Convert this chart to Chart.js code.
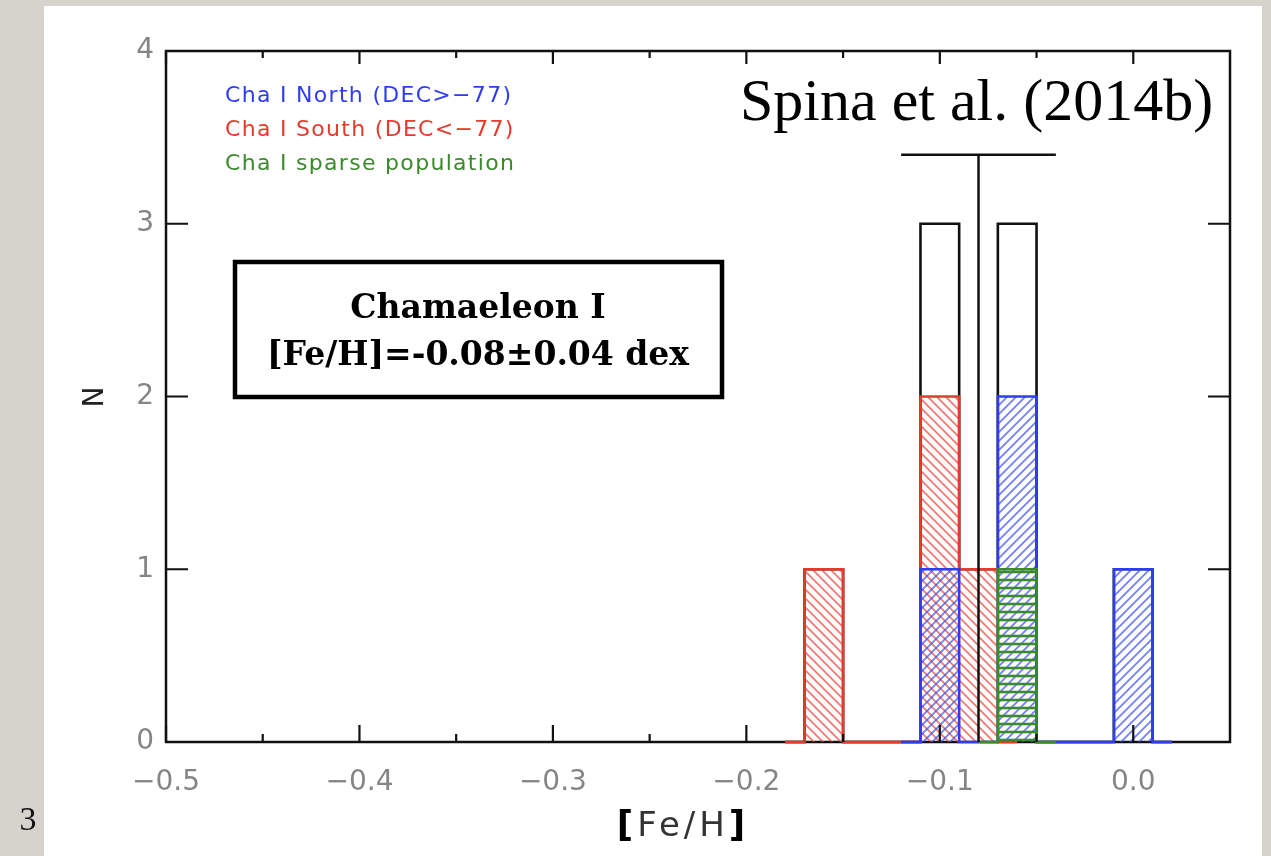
<!DOCTYPE html>
<html>
<head>
<meta charset="utf-8">
<title>Chamaeleon I [Fe/H]</title>
<script src="https://cdn.jsdelivr.net/npm/chart.js@4.4.1/dist/chart.umd.min.js"></script>
<style>
  html, body { margin: 0; padding: 0; background: #d6d3cd; }
  canvas { display: block; }
</style>
</head>
<body>
<canvas id="myChart" width="1271" height="856"></canvas>
<script>
// [Fe/H] bin centres (0.02 dex bins) and number of stars in each bin
const binsSouth  = [-0.18, -0.16, -0.14, -0.12, -0.10, -0.08, -0.06];
const countSouth = [0, 1, 0, 0, 2, 1, 0];
const binsNorth  = [-0.12, -0.10, -0.08, -0.06, -0.04, -0.02, 0.00, 0.02];
const countNorth = [0, 1, 0, 2, 0, 0, 1, 0];
const binsSparse  = [-0.08, -0.06, -0.04];
const countSparse = [0, 1, 0];
const binsAll  = [-0.18, -0.16, -0.14, -0.12, -0.10, -0.08, -0.06, -0.04, -0.02, 0.00, 0.02];
const countAll = [0, 1, 0, 0, 3, 1, 3, 0, 0, 1, 0];

// cluster mean and spread (the T marker)
const feMean = -0.08;
const feErr = 0.04;
const markTop = 3.4;

const xTicks = [-0.5, -0.4, -0.3, -0.2, -0.1, 0.0];
const xMinor = [-0.45, -0.35, -0.25, -0.15, -0.05];
const yTicks = [0, 1, 2, 3, 4];

const groupNames = ['Cha I North (DEC>\u221277)', 'Cha I South (DEC<\u221277)', 'Cha I sparse population'];

const BLUE = '#2f3df2';
const RED = '#e63a2c';
const GREEN = '#3b8a2c';

const canvas = document.getElementById('myChart');
const ctx = canvas.getContext('2d');

// hatch fills: 'fwd' = "/", 'back' = "\", 'horiz' = "-"
function hatch(kind, color, size, width) {
  const c = document.createElement('canvas');
  c.width = size; c.height = size;
  const g = c.getContext('2d');
  g.strokeStyle = color;
  g.lineWidth = width;
  g.beginPath();
  if (kind === 'horiz') {
    g.moveTo(0, size / 2); g.lineTo(size, size / 2);
  } else if (kind === 'fwd') {
    g.moveTo(0, size); g.lineTo(size, 0);
    g.moveTo(-size / 2, size / 2); g.lineTo(size / 2, -size / 2);
    g.moveTo(size / 2, size * 1.5); g.lineTo(size * 1.5, size / 2);
  } else {
    g.moveTo(0, 0); g.lineTo(size, size);
    g.moveTo(-size / 2, size / 2); g.lineTo(size / 2, size * 1.5);
    g.moveTo(size / 2, -size / 2); g.lineTo(size * 1.5, size / 2);
  }
  g.stroke();
  return ctx.createPattern(c, 'repeat');
}

function pts(xs, ys) {
  return xs.map((x, i) => ({ x: x, y: ys[i] }));
}

function histSet(xs, ys, color, fill, order) {
  return {
    data: pts(xs, ys),
    borderColor: color,
    borderWidth: 2.6,
    backgroundColor: fill || 'transparent',
    fill: fill ? 'origin' : false,
    stepped: 'middle',
    pointRadius: 0,
    clip: 6,
    order: order
  };
}

const fmt = v => {
  const s = Math.abs(v).toFixed(1);
  return v < -1e-9 ? '\u2212' + s : s;
};

const slideDecor = {
  id: 'slideDecor',
  beforeDraw(chart) {
    const c = chart.ctx;
    c.save();
    c.fillStyle = '#d6d3cd';
    c.fillRect(0, 0, chart.width, chart.height);
    c.fillStyle = '#ffffff';
    c.fillRect(44, 6, 1218, 850);
    c.restore();
  },
  beforeDatasetsDraw(chart) {
    const a = chart.chartArea;
    const c = chart.ctx;
    c.save();
    c.strokeStyle = '#111';
    c.lineWidth = 2.5;
    c.strokeRect(a.left, a.top, a.right - a.left, a.bottom - a.top);
    c.restore();
  },
  afterDatasetsDraw(chart) {
    const a = chart.chartArea;
    const c = chart.ctx;
    const xs = chart.scales.x, ys = chart.scales.y;
    c.save();
    c.strokeStyle = '#111';
    c.lineWidth = 2.2;
    c.beginPath();
    xTicks.forEach(v => {
      const px = xs.getPixelForValue(v);
      c.moveTo(px, a.bottom); c.lineTo(px, a.bottom - 17);
      c.moveTo(px, a.top); c.lineTo(px, a.top + 13);
    });
    xMinor.forEach(v => {
      const px = xs.getPixelForValue(v);
      c.moveTo(px, a.bottom); c.lineTo(px, a.bottom - 8);
      c.moveTo(px, a.top); c.lineTo(px, a.top + 7);
    });
    yTicks.forEach(v => {
      const py = ys.getPixelForValue(v);
      c.moveTo(a.left, py); c.lineTo(a.left + 22, py);
      c.moveTo(a.right, py); c.lineTo(a.right - 22, py);
    });
    c.stroke();

    // group names in the upper left
    c.font = '22px "DejaVu Sans"';
    c.letterSpacing = '1.3px';
    c.textBaseline = 'middle';
    c.textAlign = 'left';
    [BLUE, RED, GREEN].forEach((col, i) => {
      c.fillStyle = col;
      c.fillText(groupNames[i], 225, 96 + i * 34);
    });
    c.letterSpacing = '0px';

    // reference
    c.fillStyle = '#000';
    c.font = '60px "Liberation Serif"';
    c.textBaseline = 'alphabetic';
    c.fillText('Spina et al. (2014b)', 740, 120);

    // result box
    c.lineWidth = 4.5;
    c.strokeStyle = '#000';
    c.strokeRect(235, 262, 487, 135);
    c.textAlign = 'center';
    c.font = 'bold 33px "DejaVu Serif"';
    c.fillText('Chamaeleon I', 478, 318);
    c.fillText('[Fe/H]=-0.08\u00b10.04 dex', 478, 365);

    // axis titles
    c.save();
    c.translate(96, 397);
    c.rotate(-Math.PI / 2);
    c.font = '28px "DejaVu Sans"';
    c.fillStyle = '#222';
    c.textBaseline = 'middle';
    c.fillText('N', 0, 0);
    c.restore();

    c.textAlign = 'left';
    c.textBaseline = 'alphabetic';
    c.letterSpacing = '4px';
    const open = '[', mid = 'Fe/H', close = ']';
    c.font = 'bold 36px "DejaVu Sans"';
    const wo = c.measureText(open).width, wc = c.measureText(close).width;
    c.font = '34px "DejaVu Sans"';
    const wm = c.measureText(mid).width;
    let x0 = 683 - (wo + wm + wc) / 2;
    c.font = 'bold 36px "DejaVu Sans"';
    c.fillStyle = '#000';
    c.fillText(open, x0, 836);
    c.font = '34px "DejaVu Sans"';
    c.fillStyle = '#333';
    c.fillText(mid, x0 + wo, 836);
    c.font = 'bold 36px "DejaVu Sans"';
    c.fillStyle = '#000';
    c.fillText(close, x0 + wo + wm, 836);
    c.letterSpacing = '0px';

    // slide number
    c.font = '34px "Liberation Serif"';
    c.textAlign = 'center';
    c.fillStyle = '#111';
    c.fillText('3', 28, 830);
    c.restore();
  }
};

new Chart(ctx, {
  type: 'line',
  data: {
    datasets: [
      { data: [{ x: feMean, y: 0 }, { x: feMean, y: markTop }], borderColor: '#111', borderWidth: 2.5, pointRadius: 0, fill: false, clip: 6, order: 0 },
      { data: [{ x: feMean - feErr, y: markTop }, { x: feMean + feErr, y: markTop }], borderColor: '#111', borderWidth: 2.5, pointRadius: 0, fill: false, clip: 6, order: 0 },
      histSet(binsSparse, countSparse, GREEN, hatch('horiz', GREEN, 8, 2.6), 1),
      histSet(binsNorth, countNorth, BLUE, hatch('fwd', 'rgba(55,75,250,0.7)', 9, 1.8), 2),
      histSet(binsSouth, countSouth, RED, hatch('back', 'rgba(232,65,55,0.7)', 9, 1.8), 3),
      histSet(binsAll, countAll, '#111', null, 4)
    ]
  },
  options: {
    responsive: false,
    animation: false,
    devicePixelRatio: 1,
    layout: { autoPadding: false, padding: { left: 60, right: 41, top: 51, bottom: 0 } },
    plugins: { legend: { display: false }, tooltip: { enabled: false } },
    scales: {
      x: {
        type: 'linear',
        min: -0.5,
        max: 0.05,
        border: { display: false },
        grid: { display: false, drawTicks: false },
        afterBuildTicks: s => { s.ticks = xTicks.map(v => ({ value: v })); },
        afterFit: s => { s.height = 114; },
        ticks: {
          padding: 24,
          color: '#858585',
          font: { family: 'DejaVu Sans', size: 28 },
          maxRotation: 0,
          callback: v => fmt(v)
        }
      },
      y: {
        min: 0,
        max: 4,
        border: { display: false },
        grid: { display: false, drawTicks: false },
        afterBuildTicks: s => { s.ticks = yTicks.map(v => ({ value: v })); },
        afterFit: s => { s.width = 106; },
        ticks: {
          padding: 12,
          color: '#858585',
          font: { family: 'DejaVu Sans', size: 28 },
          callback: v => String(v)
        }
      }
    }
  },
  plugins: [slideDecor]
});
</script>
</body>
</html>
